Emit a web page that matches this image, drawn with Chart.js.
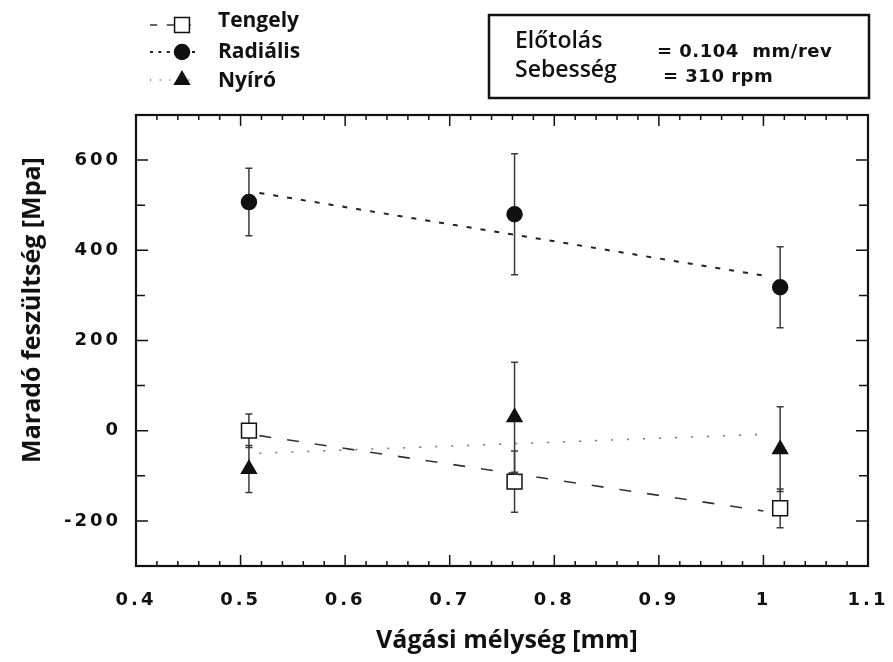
<!DOCTYPE html>
<html>
<head>
<meta charset="utf-8">
<script src="https://cdn.jsdelivr.net/npm/chart.js@4.4.1/dist/chart.umd.min.js"></script>
<style>
  html, body { margin: 0; padding: 0; background: #fff; }
  #wrap { width: 893px; height: 662px; position: relative; }
</style>
</head>
<body>
<div id="wrap"><canvas id="stress"></canvas></div>
<script>
  // cutting depth [mm] and measured residual stress [MPa] with error half-widths
  const depths = [0.508, 0.762, 1.016];
  const tengely = [0, -113, -172];
  const tengelyErr = [37, 68, 43];
  const radialis = [507, 480, 318];
  const radialisErr = [75, 134, 90];
  const nyiro = [-85, 30, -41];
  const nyiroErr = [52, 122, 94];

  // trend line end points
  const fitDepths = [0.518, 1.0];
  const tengelyFit = [-11, -178];
  const radialisFit = [527, 344];
  const nyiroFit = [-50, -8];

  const xTicks = [0.4, 0.5, 0.6, 0.7, 0.8, 0.9, 1, 1.1];
  const yTicks = [-200, 0, 200, 400, 600];
  const seriesNames = ["Tengely", "Radiális", "Nyíró"];
  const infoLabels = ["Előtolás", "Sebesség"];
  const infoValues = ["= 0.104  mm/rev", "= 310 rpm"];
  const xTitle = "Vágási mélység [mm]";
  const yTitle = "Maradó feszültség [Mpa]";

  const INK = "#111";
  const pts = (xs, ys) => xs.map((x, i) => ({ x, y: ys[i] }));

  const styles = [
    { dash: [12, 16], width: 1.6, color: "#333", pointStyle: "rect", radius: 10.5, fill: "#fff" },
    { dash: [5, 9], width: 2, color: "#222", pointStyle: "circle", radius: 7.5, fill: INK },
    { dash: [2, 14], width: 1.6, color: "#777", pointStyle: "triangle", radius: 8.5, fill: INK },
  ];

  function trend(values, s) {
    return {
      type: "line",
      data: pts(fitDepths, values),
      borderColor: s.color,
      borderWidth: s.width,
      borderDash: s.dash,
      pointRadius: 0,
      fill: false,
    };
  }

  function markers(name, values, errors, s) {
    return {
      type: "scatter",
      label: name,
      data: pts(depths, values),
      errors,
      pointStyle: s.pointStyle,
      pointRadius: s.radius,
      pointBackgroundColor: s.fill,
      pointBorderColor: INK,
      pointBorderWidth: 1.5,
    };
  }

  const errorBars = {
    id: "errorBars",
    beforeDatasetsDraw(chart) {
      const { ctx, scales: { x, y } } = chart;
      ctx.save();
      ctx.strokeStyle = "#3a3a3a";
      ctx.lineWidth = 1.5;
      chart.data.datasets.forEach((ds) => {
        if (!ds.errors) return;
        ds.data.forEach((p, i) => {
          const px = x.getPixelForValue(p.x);
          const top = y.getPixelForValue(p.y + ds.errors[i]);
          const bottom = y.getPixelForValue(p.y - ds.errors[i]);
          ctx.beginPath();
          ctx.moveTo(px, top);
          ctx.lineTo(px, bottom);
          ctx.moveTo(px - 3.5, top);
          ctx.lineTo(px + 3.5, top);
          ctx.moveTo(px - 3.5, bottom);
          ctx.lineTo(px + 3.5, bottom);
          ctx.stroke();
        });
      });
      ctx.restore();
    },
  };

  // boxed frame with inward ticks on all four sides
  const frame = {
    id: "frame",
    afterDatasetsDraw(chart) {
      const { ctx, chartArea: a, scales: { x, y } } = chart;
      ctx.save();
      ctx.strokeStyle = INK;
      ctx.lineWidth = 1.5;
      ctx.beginPath();
      const steps = Math.round((x.max - x.min) / 0.02);
      for (let i = 0; i <= steps; i++) {
        const px = x.getPixelForValue(x.min + i * 0.02);
        const len = i % 5 === 0 ? 11 : 5;
        ctx.moveTo(px, a.bottom);
        ctx.lineTo(px, a.bottom - len);
        ctx.moveTo(px, a.top);
        ctx.lineTo(px, a.top + len);
      }
      y.ticks.forEach((t) => {
        const py = y.getPixelForValue(t.value);
        const len = yTicks.includes(t.value) ? 12 : 9;
        ctx.moveTo(a.left, py);
        ctx.lineTo(a.left + len, py);
        ctx.moveTo(a.right, py);
        ctx.lineTo(a.right - len, py);
      });
      ctx.stroke();
      ctx.lineWidth = 2.2;
      ctx.strokeRect(a.left, a.top, a.right - a.left, a.bottom - a.top);
      ctx.restore();
    },
  };

  // wide-spaced tick numerals
  const spacing = {
    id: "spacing",
    beforeDraw(chart) {
      chart.ctx.letterSpacing = "3px";
    },
  };

  // legend, parameter box and axis titles
  const notes = {
    id: "notes",
    afterDraw(chart) {
      const ctx = chart.ctx;
      ctx.save();
      ctx.letterSpacing = "0px";
      ctx.fillStyle = INK;
      ctx.textAlign = "left";
      ctx.textBaseline = "alphabetic";

      const rows = [25, 52, 80];
      const baselines = [27, 58, 87];
      seriesNames.forEach((name, i) => {
        const s = styles[i];
        ctx.save();
        ctx.strokeStyle = s.color;
        ctx.lineWidth = s.width;
        ctx.setLineDash(s.dash.map((d) => d * 0.6));
        ctx.beginPath();
        ctx.moveTo(150, rows[i]);
        ctx.lineTo(198, rows[i]);
        ctx.stroke();
        ctx.restore();
        ctx.save();
        ctx.fillStyle = s.fill;
        ctx.strokeStyle = INK;
        ctx.lineWidth = 1.5;
        Chart.helpers.drawPoint(ctx, { pointStyle: s.pointStyle, radius: s.radius, borderWidth: 1.5, rotation: 0 }, 182, rows[i]);
        ctx.restore();
        ctx.font = "bold 21px 'Open Sans'";
        ctx.fillText(name, 218, baselines[i]);
      });

      ctx.lineWidth = 2.5;
      ctx.strokeStyle = INK;
      ctx.strokeRect(489, 15, 380, 83);
      ctx.font = "600 23px 'Open Sans'";
      ctx.fillText(infoLabels[0], 515, 48);
      ctx.fillText(infoLabels[1], 515, 77);
      ctx.font = "bold 18px 'DejaVu Sans'";
      ctx.letterSpacing = "0.5px";
      ctx.fillText(infoValues[0], 657, 57);
      ctx.fillText(infoValues[1], 663, 82);
      ctx.letterSpacing = "0px";

      ctx.font = "bold 25px 'Open Sans'";
      ctx.textAlign = "center";
      ctx.fillText(xTitle, 507, 648);
      ctx.translate(40, 310);
      ctx.rotate(-Math.PI / 2);
      ctx.fillText(yTitle, 0, 0);
      ctx.restore();
    },
  };

  const tickFont = { family: "'DejaVu Sans'", weight: "bold", size: 18 };

  new Chart(document.getElementById("stress"), {
    data: {
      datasets: [
        trend(tengelyFit, styles[0]),
        trend(radialisFit, styles[1]),
        trend(nyiroFit, styles[2]),
        markers(seriesNames[0], tengely, tengelyErr, styles[0]),
        markers(seriesNames[1], radialis, radialisErr, styles[1]),
        markers(seriesNames[2], nyiro, nyiroErr, styles[2]),
      ],
    },
    options: {
      responsive: true,
      maintainAspectRatio: false,
      animation: false,
      layout: { padding: { top: 115, right: 25, bottom: 0, left: 0 } },
      plugins: { legend: { display: false }, tooltip: { enabled: false } },
      scales: {
        x: {
          type: "linear",
          min: 0.4,
          max: 1.1,
          grid: { display: false, drawTicks: false },
          border: { display: false },
          ticks: {
            stepSize: 0.1,
            autoSkip: false,
            maxRotation: 0,
            padding: 24,
            color: INK,
            font: tickFont,
            callback: (v) => (xTicks.some((t) => Math.abs(t - v) < 1e-6) ? String(+v.toFixed(1)) : ""),
          },
          afterFit: (s) => {
            s.height = 96;
            s.paddingLeft = 0;
            s.paddingRight = 0;
          },
        },
        y: {
          type: "linear",
          min: -300,
          max: 700,
          grid: { display: false, drawTicks: false },
          border: { display: false },
          ticks: {
            stepSize: 100,
            autoSkip: false,
            padding: 15,
            color: INK,
            font: tickFont,
            callback: (v) => (yTicks.includes(v) ? String(v) : ""),
          },
          afterFit: (s) => {
            s.width = 136;
            s.paddingTop = 0;
            s.paddingBottom = 0;
          },
        },
      },
    },
    plugins: [spacing, errorBars, frame, notes],
  });
</script>
</body>
</html>
